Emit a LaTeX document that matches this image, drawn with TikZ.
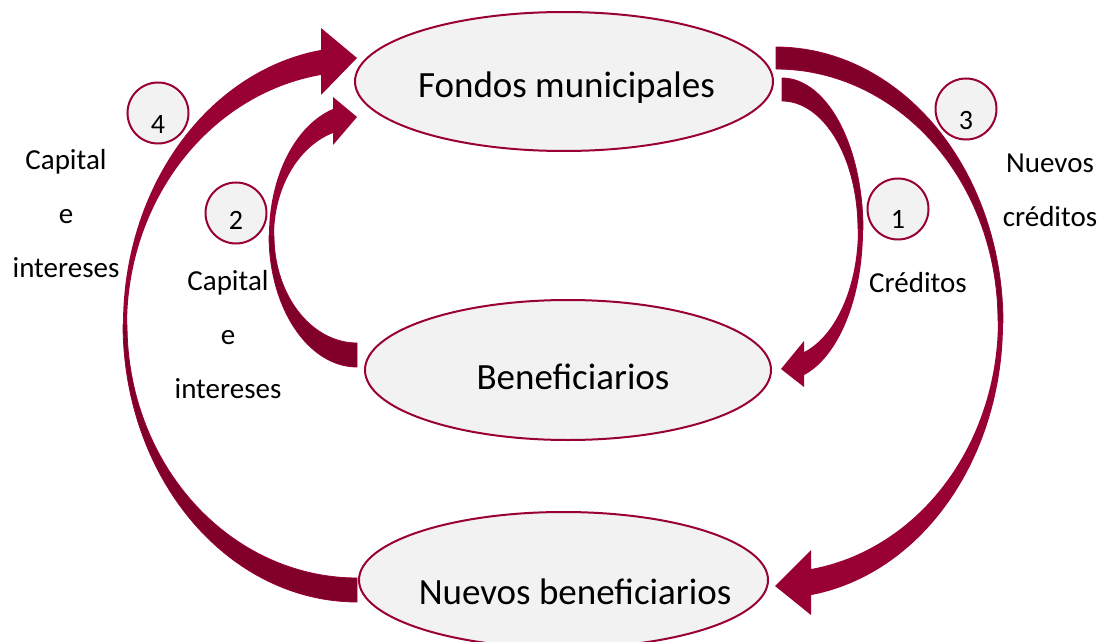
\documentclass[tikz,border=0pt]{standalone}
\usepackage{fontspec}
\setmainfont{Carlito}
\usetikzlibrary{shapes.geometric}
\definecolor{crimson}{HTML}{990033}
\definecolor{darkcrimson}{HTML}{80002A}
\definecolor{ellfill}{HTML}{F2F2F2}
\tikzset{
  ellbox/.style={ellipse, draw=crimson, line width=2pt, fill=ellfill, inner sep=0pt},
  numcircle/.style={circle, draw=crimson, line width=2pt, fill=ellfill, inner sep=0pt,
    minimum size=61pt, text depth=0pt, font=\fontsize{28}{30}\selectfont},
  maintext/.style={anchor=base, font=\fontsize{37}{44}\selectfont, inner sep=0pt},
  labeltext/.style={anchor=base, align=center, font=\fontsize{29}{54}\selectfont, inner sep=0pt},
  backpart/.style={fill=darkcrimson, draw=crimson, line width=0.8pt, line join=round},
  frontpart/.style={fill=crimson},
}
\begin{document}
\begin{tikzpicture}[x=1pt,y=-1pt]
\useasboundingbox (0,0) rectangle (1101,642);

% ---- Arrow 4: Nuevos beneficiarios -> Fondos municipales (outer left)
\path[backpart] plot[domain=90:180, samples=50] ({357+234*cos(\x)},{324.3+277.7*sin(\x)})
  -- plot[domain=180:90, samples=50] ({357+230*cos(\x)},{324.9+253.1*sin(\x)}) -- cycle;
\path[frontpart] plot[domain=180:261.15, samples=50] ({357+234*cos(\x)},{324.3+277.7*sin(\x)})
  -- (321,28) -- (357,58) -- (321,95)
  -- plot[domain=261.0:180, samples=50] ({357+230*cos(\x)},{324.9+253.1*sin(\x)}) -- cycle;

% ---- Arrow 2: Beneficiarios -> Fondos municipales (inner left)
\path[backpart] plot[domain=90:180, samples=40] ({357+88*cos(\x)},{235.5+131.5*sin(\x)})
  -- plot[domain=180:90, samples=40] ({357+83*cos(\x)},{235.7+107.3*sin(\x)}) -- cycle;
\path[frontpart] plot[domain=180:254.17, samples=40] ({357+88*cos(\x)},{235.5+131.5*sin(\x)})
  -- (333,97) -- (357,117) -- (333,145)
  -- plot[domain=253.2:180, samples=40] ({357+83*cos(\x)},{235.7+107.3*sin(\x)}) -- cycle;

% ---- Arrow 1: Fondos municipales -> Beneficiarios (inner right)
\path[backpart] plot[domain=-90:0, samples=40] ({782+81*cos(\x)},{229.4+151.4*sin(\x)})
  -- plot[domain=0:-90, samples=40] ({782+76*cos(\x)},{229.3+128.3*sin(\x)}) -- cycle;
\path[frontpart] plot[domain=0:74.24, samples=40] ({782+81*cos(\x)},{229.4+151.4*sin(\x)})
  -- (804,387) -- (781,369) -- (804,341)
  -- plot[domain=73.17:0, samples=40] ({782+76*cos(\x)},{229.3+128.3*sin(\x)}) -- cycle;

% ---- Arrow 3: Fondos municipales -> Nuevos beneficiarios (outer right)
\path[backpart] plot[domain=-90:0, samples=50] ({776+227*cos(\x)},{322.7+275.7*sin(\x)})
  -- plot[domain=0:-90, samples=50] ({776+222*cos(\x)},{320.6+251.6*sin(\x)}) -- cycle;
\path[frontpart] plot[domain=0:81.13, samples=50] ({776+227*cos(\x)},{322.7+275.7*sin(\x)})
  -- (811,615) -- (775,586) -- (811,550)
  -- plot[domain=80.93:0, samples=50] ({776+222*cos(\x)},{320.6+251.6*sin(\x)}) -- cycle;

% ---- Ellipses
\node[ellbox, minimum width=418pt, minimum height=139pt] (fondos) at (564,81.5) {};
\node[ellbox, minimum width=406pt, minimum height=140pt] (benef) at (568,370) {};
\node[ellbox, minimum width=409pt, minimum height=136pt] (nuevos) at (563.5,580) {};

\node[maintext] (fondosT) at (566.5,98) {Fondos municipales};
\node[maintext] (benefT) at (573,389) {Beneficiarios};
\node[maintext] (nuevosT) at (575,604) {Nuevos beneficiarios};

% ---- Number circles
\node[numcircle, text height=40pt] (n4) at (158,113) {4};
\node[numcircle, text height=32pt] (n2) at (236,213) {2};
\node[numcircle, text height=40pt] (n3) at (966,109) {3};
\node[numcircle, text height=38pt] (n1) at (898,209) {1};

% ---- Labels (base anchor = baseline of the last line)
\node[labeltext] (l4) at (66,277) {Capital\\e\\intereses};
\node[labeltext] (l2) at (228,398) {Capital\\e\\intereses};
\node[labeltext] (l1) at (918,292) {Créditos};
\node[labeltext] (l3) at (1050,226) {Nuevos\\créditos};
\end{tikzpicture}
\end{document}
